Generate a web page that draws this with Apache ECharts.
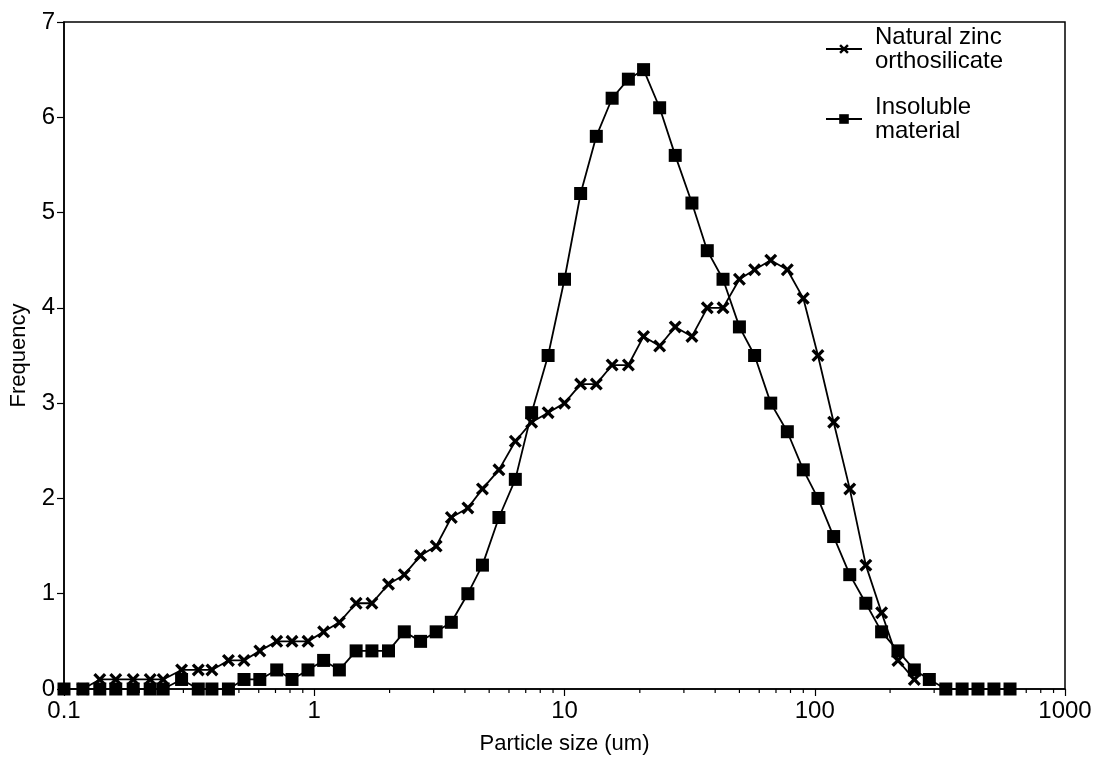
<!DOCTYPE html>
<html>
<head>
<meta charset="utf-8">
<script src="https://cdn.jsdelivr.net/npm/echarts@6/dist/echarts.min.js"></script>
<style>
html,body{margin:0;padding:0;background:#fff;}
#chart{width:1097px;height:760px;}
</style>
</head>
<body>
<div id="chart"></div>
<script>
// Particle size bins (um)
var sizes = [0.1, 0.119, 0.139, 0.161, 0.189, 0.221, 0.249, 0.295, 0.344, 0.39,
  0.454, 0.524, 0.606, 0.708, 0.815, 0.944, 1.09, 1.26, 1.47, 1.70,
  1.98, 2.29, 2.66, 3.07, 3.53, 4.11, 4.70, 5.47, 6.36, 7.39,
  8.6, 10.0, 11.6, 13.4, 15.5, 18.0, 20.7, 24.0, 27.7, 32.3,
  37.2, 43.0, 50.0, 57.5, 66.7, 77.7, 90, 103, 119, 138,
  160, 185, 215, 250, 287, 334, 388, 449, 520, 603];

// Natural zinc orthosilicate (crosses)
var natural = [null, 0, 0.1, 0.1, 0.1, 0.1, 0.1, 0.2, 0.2, 0.2,
  0.3, 0.3, 0.4, 0.5, 0.5, 0.5, 0.6, 0.7, 0.9, 0.9,
  1.1, 1.2, 1.4, 1.5, 1.8, 1.9, 2.1, 2.3, 2.6, 2.8,
  2.9, 3.0, 3.2, 3.2, 3.4, 3.4, 3.7, 3.6, 3.8, 3.7,
  4.0, 4.0, 4.3, 4.4, 4.5, 4.4, 4.1, 3.5, 2.8, 2.1,
  1.3, 0.8, 0.3, 0.1, null, null, null, null, null, null];

// Insoluble material (squares)
var insoluble = [0, 0, 0, 0, 0, 0, 0, 0.1, 0, 0,
  0, 0.1, 0.1, 0.2, 0.1, 0.2, 0.3, 0.2, 0.4, 0.4,
  0.4, 0.6, 0.5, 0.6, 0.7, 1.0, 1.3, 1.8, 2.2, 2.9,
  3.5, 4.3, 5.2, 5.8, 6.2, 6.4, 6.5, 6.1, 5.6, 5.1,
  4.6, 4.3, 3.8, 3.5, 3.0, 2.7, 2.3, 2.0, 1.6, 1.2,
  0.9, 0.6, 0.4, 0.2, 0.1, 0, 0, 0, 0, 0];

var xTickLabels = ['0.1', '1', '10', '100', '1000'];
var yTicks = [0, 1, 2, 3, 4, 5, 6, 7];
var minorTicks = [0.2,0.3,0.4,0.5,0.6,0.7,0.8,0.9, 2,3,4,5,6,7,8,9,
  20,30,40,50,60,70,80,90, 200,300,400,500,600,700,800,900];

function pairs(vals) {
  var out = [];
  for (var i = 0; i < sizes.length; i++) {
    if (vals[i] !== null && vals[i] !== undefined) out.push([sizes[i], vals[i]]);
  }
  return out;
}

var crossPath = 'path://M0,1.8 L1.8,0 L5,3.2 L8.2,0 L10,1.8 L6.8,5 L10,8.2 L8.2,10 L5,6.8 L1.8,10 L0,8.2 L3.2,5 Z';
var FONT = '"Liberation Sans", Arial, Helvetica, sans-serif';

var chart = echarts.init(document.getElementById('chart'), null, {renderer: 'canvas'});
chart.setOption({
  animation: false,
  backgroundColor: '#fff',
  textStyle: {fontFamily: FONT, color: '#000'},
  grid: {left: 64, right: 32, top: 22, bottom: 71, show: true, borderColor: '#000', borderWidth: 1.5,
    containLabel: false, outerBoundsMode: 'none'},
  legend: {
    orient: 'vertical', left: 820, top: 20,
    itemWidth: 36, itemHeight: 12, itemGap: 22,
    textStyle: {fontFamily: FONT, fontSize: 24, color: '#000', lineHeight: 24, padding: [0, 0, 0, 8]},
    data: [
      {name: 'Natural zinc\northosilicate'},
      {name: 'Insoluble\nmaterial'}
    ]
  },
  xAxis: {
    type: 'log', logBase: 10, min: 0.1, max: 1000,
    name: 'Particle size (um)', nameLocation: 'middle', nameGap: 44,
    nameTextStyle: {fontFamily: FONT, fontSize: 22, color: '#000'},
    axisLine: {show: true, lineStyle: {color: '#000', width: 1.5}},
    axisTick: {show: true, length: 7, lineStyle: {color: '#000', width: 1.2}},
    axisLabel: {fontFamily: FONT, fontSize: 24, color: '#000', margin: 10,
      formatter: function (v) {
        var idx = Math.round(Math.log10(v)) + 1;
        return xTickLabels[idx] !== undefined ? xTickLabels[idx] : '';
      }},
    splitLine: {show: false}, minorTick: {show: false}, minorSplitLine: {show: false}
  },
  yAxis: {
    type: 'value', min: yTicks[0], max: yTicks[yTicks.length - 1], interval: 1,
    name: 'Frequency', nameLocation: 'middle', nameGap: 34,
    nameTextStyle: {fontFamily: FONT, fontSize: 22, color: '#000'},
    axisLine: {show: true, lineStyle: {color: '#000', width: 1.5}},
    axisTick: {show: true, length: 7, lineStyle: {color: '#000', width: 1.2}},
    axisLabel: {fontFamily: FONT, fontSize: 24, color: '#000', margin: 9},
    splitLine: {show: false}
  },
  series: [
    {
      name: 'Natural zinc\northosilicate', type: 'line',
      data: pairs(natural),
      symbol: crossPath, symbolSize: 13,
      lineStyle: {color: '#000', width: 1.8},
      itemStyle: {color: '#000'},
      z: 3
    },
    {
      name: 'Insoluble\nmaterial', type: 'line',
      data: pairs(insoluble),
      symbol: 'rect', symbolSize: 13,
      lineStyle: {color: '#000', width: 1.8},
      itemStyle: {color: '#000'},
      z: 2
    },
    {
      type: 'custom', silent: true, clip: false, z: 5,
      data: minorTicks.map(function (v) { return [v, 0]; }),
      renderItem: function (params, api) {
        var p = api.coord([api.value(0), 0]);
        return {type: 'line', shape: {x1: p[0], y1: p[1], x2: p[0], y2: p[1] + 4},
          style: {stroke: '#000', lineWidth: 1.2}};
      },
      encode: {x: 0, y: 1}
    }
  ]
});
</script>
</body>
</html>
